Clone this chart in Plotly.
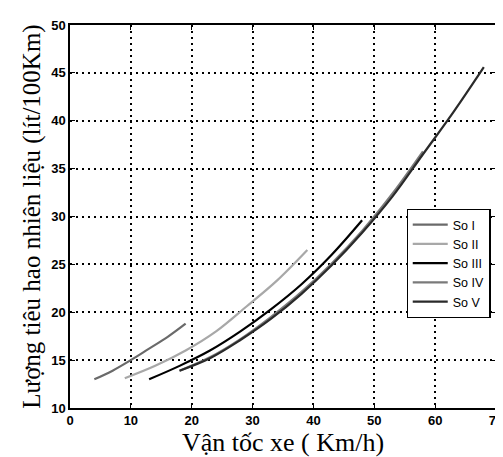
import plotly.graph_objects as go

x_so1 = [4, 7, 10, 13, 16, 19]
y_so1 = [13.0, 13.9, 15.0, 16.2, 17.4, 18.8]
x_so2 = [9, 14, 19, 24, 29, 34, 39]
y_so2 = [13.1, 14.4, 16.0, 18.0, 20.6, 23.3, 26.5]
x_so3 = [13, 18, 23, 28, 33, 38, 43, 48]
y_so3 = [13.0, 14.4, 16.0, 18.0, 20.3, 22.9, 26.0, 29.6]
x_so4 = [18, 23, 28, 33, 38, 43, 48, 53, 58]
y_so4 = [13.9, 15.3, 17.2, 19.5, 22.1, 25.1, 28.5, 32.4, 36.8]
x_so5 = [18, 23, 28, 33, 38, 43, 48, 53, 58, 63, 68]
y_so5 = [13.9, 15.2, 17.1, 19.3, 21.9, 24.9, 28.3, 32.1, 36.5, 40.9, 45.6]

names = ["So I", "So II", "So III", "So IV", "So V"]
colors = ["#6a6a6a", "#a8a8a8", "#000000", "#7a7a7a", "#2a2a2a"]
series = [(x_so1, y_so1), (x_so2, y_so2), (x_so3, y_so3), (x_so4, y_so4), (x_so5, y_so5)]

fig = go.Figure()
for (xs, ys), n, c in zip(series, names, colors):
    fig.add_trace(go.Scatter(x=xs, y=ys, mode="lines", name=n,
                             line=dict(color=c, width=2.2, shape="spline")))

axis_common = dict(
    showline=True, linecolor="black", linewidth=1.5, mirror="ticks",
    ticks="inside", ticklen=5, tickcolor="black",
    showgrid=True, gridcolor="black", griddash="2px,4px", gridwidth=2,
    zeroline=False,
    tickfont=dict(family="Liberation Sans", size=13, color="black", weight="bold"),
)

fig.update_xaxes(range=[0, 70], dtick=10,
                 title=dict(text="Vận tốc xe ( Km/h)", standoff=4,
                            font=dict(family="Liberation Serif", size=26, color="black")),
                 **axis_common)
fig.update_yaxes(range=[10, 50], dtick=5,
                 title=dict(text="Lượng tiêu hao nhiên liệu (lít/100Km)", standoff=3,
                            font=dict(family="Liberation Serif", size=25, color="black")),
                 **axis_common)

fig.update_layout(
    width=503, height=457,
    margin=dict(l=62, r=8, t=17, b=57),
    plot_bgcolor="white", paper_bgcolor="white",
    showlegend=True,
    legend=dict(x=0.79, y=0.52, xanchor="left", yanchor="top",
                bgcolor="white", bordercolor="black", borderwidth=1.2,
                font=dict(family="Liberation Sans", size=12.5, color="black"),
                tracegroupgap=0, itemwidth=35),
)

fig.write_html("out.html")
